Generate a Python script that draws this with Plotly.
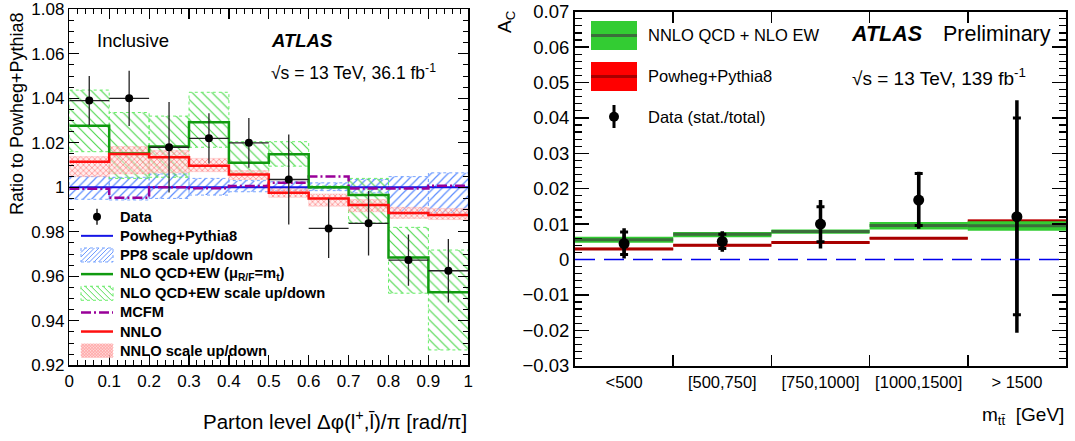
import numpy as np
import plotly.graph_objects as go

W, H = 1075, 441
OFF = 0  # body margin is removed by the post script
FONT = "Liberation Sans, Arial, Helvetica, sans-serif"

# ---------------- Left panel: ratio to Powheg+Pythia8 ----------------
dphi_edges = [0.0, 0.1, 0.2, 0.3, 0.4, 0.5, 0.6, 0.7, 0.8, 0.9, 1.0]
data_ratio = [1.039, 1.040, 1.018, 1.022, 1.020, 1.0035, 0.9815, 0.9838, 0.9673, 0.9625]
data_err = [0.011, 0.0124, 0.0203, 0.0113, 0.0112, 0.0202, 0.0133, 0.0145, 0.0115, 0.0143]
powheg_ratio = [1.0, 1.0, 1.0, 1.0, 1.0, 1.0, 1.0, 1.0, 1.0, 1.0]
pp8_scale_hi = [1.0048, 1.0045, 1.0060, 1.0040, 1.0030, 1.0025, 1.0020, 1.0035, 1.0048, 1.0065]
pp8_scale_lo = [0.9946, 0.9943, 0.9950, 0.9965, 0.9980, 0.9985, 0.9985, 0.9975, 0.9880, 0.9885]
nlo_ratio = [1.0277, 1.0152, 1.0183, 1.0292, 1.0110, 1.0148, 1.0000, 0.9965, 0.9685, 0.9528]
nlo_scale_hi = [1.0437, 1.0336, 1.0320, 1.0427, 1.0205, 1.0205, 1.0006, 1.0040, 0.9820, 0.9718]
nlo_scale_lo = [1.0160, 1.0040, 1.0045, 1.0180, 1.0063, 1.0095, 0.9994, 0.9840, 0.9524, 0.9269]
mcfm_ratio = [0.9993, 0.9953, 1.0000, 0.9996, 1.0006, 1.0020, 1.0048, 0.9995, 0.9995, 1.0007]
nnlo_ratio = [1.0115, 1.0150, 1.0135, 1.0097, 1.0057, 0.9975, 0.9950, 0.9920, 0.9885, 0.9875]
nnlo_scale_hi = [1.0138, 1.0183, 1.0165, 1.0130, 1.0075, 0.9995, 0.9970, 0.9945, 0.9910, 0.9905]
nnlo_scale_lo = [1.0048, 1.0060, 1.0065, 1.0070, 1.0035, 0.9955, 0.9915, 0.9890, 0.9860, 0.9855]

# ---------------- Right panel: A_C vs m_tt ----------------
mtt_labels = ["<500", "[500,750]", "[750,1000]", "[1000,1500]", "> 1500"]
mtt_edges = [0, 1, 2, 3, 4, 5]
nnlo_ac = [0.0056, 0.0071, 0.0079, 0.0096, 0.0095]
nnlo_ac_lo = [0.0047, 0.0063, 0.0073, 0.0085, 0.0081]
nnlo_ac_hi = [0.0064, 0.0078, 0.0085, 0.0106, 0.0108]
pp8_ac = [0.0030, 0.0040, 0.0048, 0.0060, 0.0109]
pp8_ac_lo = [0.0027, 0.0037, 0.0045, 0.0057, 0.0105]
pp8_ac_hi = [0.0033, 0.0043, 0.0051, 0.0063, 0.0113]
data_ac = [0.0045, 0.0051, 0.0100, 0.0168, 0.0121]
data_ac_stat_lo = [0.0014, 0.0031, 0.0050, 0.0096, -0.0156]
data_ac_stat_hi = [0.0078, 0.0071, 0.0149, 0.0243, 0.0400]
data_ac_tot_lo = [0.0003, 0.0022, 0.0031, 0.0087, -0.0207]
data_ac_tot_hi = [0.0088, 0.0080, 0.0168, 0.0248, 0.0450]


def step_xy(edges, vals):
    return list(edges), list(vals) + [vals[-1]]


def boxes_xy(edges, lo, hi):
    xs, ys = [], []
    for i in range(len(lo)):
        a, b = edges[i], edges[i + 1]
        xs += [a, b, b, a, a, None]
        ys += [lo[i], lo[i], hi[i], hi[i], lo[i], None]
    return xs, ys


def segs_xy(edges, vals):
    xs, ys = [], []
    for i in range(len(vals)):
        xs += [edges[i], edges[i + 1], None]
        ys += [vals[i], vals[i], None]
    return xs, ys


def centers(edges):
    return [(edges[i] + edges[i + 1]) / 2 for i in range(len(edges) - 1)]


# ---------------- helpers for screen pixel -> paper ----------------
def px(x):
    return (x - OFF) / W


def py(y):
    return 1 - (y - OFF) / H


fig = go.Figure()

# ---- left bands ----
bx, by = boxes_xy(dphi_edges, pp8_scale_lo, pp8_scale_hi)
fig.add_trace(go.Scatter(x=bx, y=by, fill="toself", mode="lines",
                         line=dict(color="#7aa6ff", width=1, dash="dot"),
                         fillcolor="rgba(0,0,0,0)",
                         fillpattern=dict(shape="/", fgcolor="#5b8cff", bgcolor="rgba(0,0,0,0)",
                                          size=6, solidity=0.2),
                         xaxis="x", yaxis="y", showlegend=False, hoverinfo="skip"))
bx, by = boxes_xy(dphi_edges, nlo_scale_lo, nlo_scale_hi)
fig.add_trace(go.Scatter(x=bx, y=by, fill="toself", mode="lines",
                         line=dict(color="#66ee66", width=1, dash="dot"),
                         fillcolor="rgba(0,0,0,0)",
                         fillpattern=dict(shape="\\", fgcolor="#4fd84f", bgcolor="rgba(0,0,0,0)",
                                          size=7, solidity=0.17),
                         xaxis="x", yaxis="y", showlegend=False, hoverinfo="skip"))
bx, by = boxes_xy(dphi_edges, nnlo_scale_lo, nnlo_scale_hi)
fig.add_trace(go.Scatter(x=bx, y=by, fill="toself", mode="lines",
                         line=dict(color="rgba(255,150,150,0.6)", width=0.5),
                         fillcolor="rgba(0,0,0,0)",
                         fillpattern=dict(shape="x", fgcolor="#ff8a8a", bgcolor="rgba(255,220,220,0.5)",
                                          size=4, solidity=0.35),
                         xaxis="x", yaxis="y", showlegend=False, hoverinfo="skip"))

# ---- left lines ----
sx, sy = step_xy(dphi_edges, powheg_ratio)
fig.add_trace(go.Scatter(x=sx, y=sy, mode="lines", line=dict(color="#1515e6", width=2, shape="hv"),
                         xaxis="x", yaxis="y", showlegend=False))
sx, sy = step_xy(dphi_edges, mcfm_ratio)
fig.add_trace(go.Scatter(x=sx, y=sy, mode="lines",
                         line=dict(color="#990099", width=2.5, shape="hv", dash="10px,3px,2px,3px"),
                         xaxis="x", yaxis="y", showlegend=False))
sx, sy = step_xy(dphi_edges, nlo_ratio)
fig.add_trace(go.Scatter(x=sx, y=sy, mode="lines", line=dict(color="#109a10", width=2.5, shape="hv"),
                         xaxis="x", yaxis="y", showlegend=False))
sx, sy = step_xy(dphi_edges, nnlo_ratio)
fig.add_trace(go.Scatter(x=sx, y=sy, mode="lines", line=dict(color="#ff1010", width=2.5, shape="hv"),
                         xaxis="x", yaxis="y", showlegend=False))

# ---- left data ----
half_w = [(dphi_edges[i + 1] - dphi_edges[i]) / 2 for i in range(len(data_ratio))]
fig.add_trace(go.Scatter(x=centers(dphi_edges), y=data_ratio, mode="markers",
                         marker=dict(color="black", size=8),
                         error_x=dict(type="data", array=half_w, width=0, thickness=1.3, color="#222"),
                         error_y=dict(type="data", array=data_err, width=0, thickness=1.3, color="#222"),
                         xaxis="x", yaxis="y", showlegend=False))

# ---- right panel ----
bx, by = boxes_xy(mtt_edges, pp8_ac_lo, pp8_ac_hi)
fig.add_trace(go.Scatter(x=bx, y=by, fill="toself", mode="lines", line=dict(width=0, color="#ff5050"),
                         fillcolor="#ff5050", xaxis="x2", yaxis="y2", showlegend=False, hoverinfo="skip"))
gx, gy = segs_xy(mtt_edges, pp8_ac)
fig.add_trace(go.Scatter(x=gx, y=gy, mode="lines", line=dict(color="#a80000", width=3),
                         xaxis="x2", yaxis="y2", showlegend=False))
bx, by = boxes_xy(mtt_edges, nnlo_ac_lo, nnlo_ac_hi)
fig.add_trace(go.Scatter(x=bx, y=by, fill="toself", mode="lines", line=dict(width=0, color="#33cc33"),
                         fillcolor="#33cc33", xaxis="x2", yaxis="y2", showlegend=False, hoverinfo="skip"))
gx, gy = segs_xy(mtt_edges, nnlo_ac)
fig.add_trace(go.Scatter(x=gx, y=gy, mode="lines", line=dict(color="#3b6e3b", width=3),
                         xaxis="x2", yaxis="y2", showlegend=False))

mc = centers(mtt_edges)
tot_up = [h - v for h, v in zip(data_ac_tot_hi, data_ac)]
tot_dn = [v - l for l, v in zip(data_ac_tot_lo, data_ac)]
st_up = [h - v for h, v in zip(data_ac_stat_hi, data_ac)]
st_dn = [v - l for l, v in zip(data_ac_stat_lo, data_ac)]
fig.add_trace(go.Scatter(x=mc, y=data_ac, mode="markers", marker=dict(color="black", size=11),
                         error_y=dict(type="data", symmetric=False, array=tot_up, arrayminus=tot_dn,
                                      width=0, thickness=3.5, color="black"),
                         xaxis="x2", yaxis="y2", showlegend=False))
fig.add_trace(go.Scatter(x=mc, y=data_ac, mode="markers", marker=dict(color="black", size=1),
                         error_y=dict(type="data", symmetric=False, array=st_up, arrayminus=st_dn,
                                      width=4, thickness=3, color="black"),
                         xaxis="x2", yaxis="y2", showlegend=False))

shapes = []
annots = []


def pline(x0, y0, x1, y1, color, width=1, dash="solid"):
    shapes.append(dict(type="line", xref="paper", yref="paper", x0=px(x0), y0=py(y0),
                       x1=px(x1), y1=py(y1), line=dict(color=color, width=width, dash=dash)))


def prect(x0, y0, x1, y1, fill, lcolor=None, lwidth=0, dash="solid"):
    shapes.append(dict(type="rect", xref="paper", yref="paper", x0=px(x0), y0=py(y1),
                       x1=px(x1), y1=py(y0), fillcolor=fill,
                       line=dict(color=lcolor or fill, width=lwidth, dash=dash)))


def pcircle(cx, cy, r, color):
    shapes.append(dict(type="circle", xref="paper", yref="paper", x0=px(cx - r), y0=py(cy + r),
                       x1=px(cx + r), y1=py(cy - r), fillcolor=color, line=dict(color=color, width=0)))


def hatch(x0, y0, x1, y1, spacing, direction, color, width=1):
    # direction '/' : x + y = c ; '\\' : x - y = c  (pixel coords, y down)
    if direction == "/":
        c = x0 + y0
        while c < x1 + y1:
            xa = max(x0, c - y1)
            xb = min(x1, c - y0)
            if xb > xa:
                pline(xa, c - xa, xb, c - xb, color, width)
            c += spacing
    else:
        c = x0 - y1
        while c < x1 - y0:
            xa = max(x0, c + y0)
            xb = min(x1, c + y1)
            if xb > xa:
                pline(xa, xa - c, xb, xb - c, color, width)
            c += spacing


def text(x, y, s, size, xanchor="left", yanchor="middle", angle=0, color="black"):
    annots.append(dict(x=px(x), y=py(y), xref="paper", yref="paper", text=s, showarrow=False,
                       xanchor=xanchor, yanchor=yanchor, textangle=angle,
                       font=dict(family=FONT, size=size, color=color)))


# ---------------- left legend ----------------
leg_items = ["<b>Data</b>", "<b>Powheg+Pythia8</b>", "<b>PP8 scale up/down</b>",
             "<b>NLO QCD+EW (μ<sub>R/F</sub>=m<sub>t</sub>)</b>", "<b>NLO QCD+EW scale up/down</b>",
             "<b>MCFM</b>", "<b>NNLO</b>", "<b>NNLO scale up/down</b>"]
sx0, sx1 = 81, 113
for i, lab in enumerate(leg_items):
    yc = 216.7 + 19.14 * i
    text(118, yc, lab, 14.7)
    if i == 0:
        pline(97, yc - 8, 97, yc + 8, "black", 1.3)
        pcircle(97, yc, 4, "black")
    elif i == 1:
        pline(sx0, yc, sx1, yc, "#1515e6", 2)
    elif i == 2:
        hatch(sx0, yc - 7, sx1, yc + 7, 4.5, "/", "#6b98ff", 1)
        prect(sx0, yc - 7, sx1, yc + 7, "rgba(0,0,0,0)", "#7aa6ff", 1, "dot")
    elif i == 3:
        pline(sx0, yc, sx1, yc, "#109a10", 2.5)
    elif i == 4:
        hatch(sx0, yc - 7, sx1, yc + 7, 6, "\\", "#55dd55", 1)
        prect(sx0, yc - 7, sx1, yc + 7, "rgba(0,0,0,0)", "#66ee66", 1, "dot")
    elif i == 5:
        pline(sx0, yc, sx1, yc, "#990099", 2.5, "10px,3px,2px,3px")
    elif i == 6:
        pline(sx0, yc, sx1, yc, "#ff1010", 2.5)
    elif i == 7:
        prect(sx0, yc - 7, sx1, yc + 7, "rgba(255,200,200,0.7)")
        hatch(sx0, yc - 7, sx1, yc + 7, 3, "/", "#ff9a9a", 0.8)
        hatch(sx0, yc - 7, sx1, yc + 7, 3, "\\", "#ff9a9a", 0.8)

# left texts
text(95, 41, "Inclusive", 18.5)
text(269, 41, "<b><i>ATLAS</i></b>", 18.5)
text(269, 72, "√s = 13 TeV, 36.1 fb<sup>-1</sup>", 17.5)
text(17, 114, "Ratio to Powheg+Pythia8", 18, xanchor="center", angle=-90)
text(469, 420, "Parton level Δφ(l<sup>+</sup>,l̄)/π [rad/π]", 20.5, xanchor="right")

# ---------------- right legend ----------------
prect(591, 21, 637, 50, "#33cc33")
pline(591, 35.5, 637, 35.5, "#3b6e3b", 3)
prect(591, 62, 637, 91, "#ff0000")
pline(591, 76.5, 637, 76.5, "#a80000", 3)
pline(614, 105, 614, 128, "black", 3)
pcircle(614, 116.7, 5, "black")
text(646, 35, "NNLO QCD + NLO EW", 16.5)
text(646, 76, "Powheg+Pythia8", 16.5)
text(646, 117, "Data (stat./total)", 16.5)

text(849, 34, "<b><i>ATLAS</i></b>", 21.5)
text(941, 34, "Preliminary", 21.5)
text(850, 77, "√s = 13 TeV, 139 fb<sup>-1</sup>", 19)
text(1066, 416, "m<sub>tt̄</sub>  [GeV]", 19, xanchor="right")
text(506, 22, "A<sub>C</sub>", 19, xanchor="center", angle=-90)

# zero reference line (right panel)
shapes.append(dict(type="line", xref="x2 domain", x0=0, x1=1, yref="y2", y0=0, y1=0,
                   line=dict(color="#0000ee", width=1.5, dash="20px,9px")))

axis_common = dict(showgrid=False, zeroline=False, showline=True, linecolor="black",
                   ticks="inside", mirror="allticks", tickcolor="black", automargin=False,
                   ticklabeloverflow="allow")

fig.update_layout(
    template="none",
    width=W, height=H, autosize=False,
    margin=dict(l=0, r=0, t=0, b=0, pad=0),
    paper_bgcolor="white", plot_bgcolor="white",
    showlegend=False,
    shapes=shapes, annotations=annots,
    xaxis=dict(domain=[px(69.3), px(468.3)], range=[0, 1], anchor="y",
               tick0=0, dtick=0.1, ticklen=10, tickwidth=1.2, linewidth=1.5,
               tickfont=dict(family=FONT, size=17, color="black"),
               minor=dict(tick0=0, dtick=0.02, ticklen=5, tickwidth=1, ticks="inside",
                          tickcolor="black", showgrid=False),
               **axis_common),
    yaxis=dict(domain=[py(365.3), py(9.3)], range=[0.92, 1.08], anchor="x",
               tick0=0.92, dtick=0.02, ticklen=10, tickwidth=1.2, linewidth=1.5,
               tickfont=dict(family=FONT, size=17, color="black"),
               minor=dict(tick0=0.92, dtick=0.005, ticklen=5, tickwidth=1, ticks="inside",
                          tickcolor="black", showgrid=False),
               **axis_common),
    xaxis2=dict(domain=[px(575), px(1066)], range=[0, 5], anchor="y2",
                tickmode="array", tickvals=centers(mtt_edges), ticktext=mtt_labels,
                ticklen=0, linewidth=2,
                tickfont=dict(family=FONT, size=16.5, color="black"),
                minor=dict(tickmode="linear", tick0=0, dtick=1, ticklen=11, tickwidth=1.5,
                           ticks="inside", tickcolor="black", showgrid=False),
                **axis_common),
    yaxis2=dict(domain=[py(365.7), py(11.7)], range=[-0.03, 0.07], anchor="x2",
                tick0=0, dtick=0.01, ticklen=14, tickwidth=1.5, linewidth=2,
                tickfont=dict(family=FONT, size=18.5, color="black"),
                minor=dict(tick0=0, dtick=0.002, ticklen=7, tickwidth=1.2, ticks="inside",
                           tickcolor="black", showgrid=False),
                **axis_common),
)

fig.write_html("out.html",
               config={"displayModeBar": False, "staticPlot": True},
               post_script="document.body.style.margin='0px';document.body.style.overflow='hidden';")
